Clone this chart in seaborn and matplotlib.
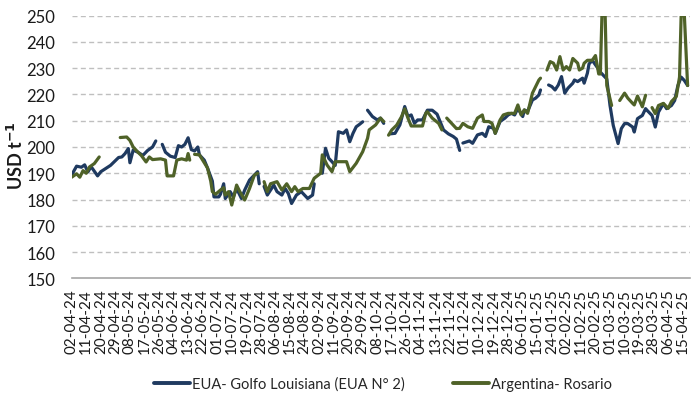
import numpy as np
import pandas as pd
import matplotlib
matplotlib.use("Agg")
import matplotlib.pyplot as plt
import seaborn as sns

# --- data (NaN = gap in the series) ------------------------------------------
US_DATES = [
    "2024-04-02", "2024-04-05", "2024-04-08", "2024-04-10", "2024-04-12", "2024-04-14",
    "2024-04-18", "2024-04-20", "2024-04-26", "2024-05-01", "2024-05-03", "2024-05-05",
    "2024-05-07", "2024-05-08", "2024-05-10", "2024-05-13", "2024-05-16", "2024-05-19",
    "2024-05-22", "2024-05-24", "2024-05-26", "2024-05-28", "2024-05-30", "2024-06-02",
    "2024-06-05", "2024-06-07", "2024-06-09", "2024-06-11", "2024-06-13", "2024-06-15",
    "2024-06-17", "2024-06-19", "2024-06-20", "2024-06-23", "2024-06-25", "2024-06-28",
    "2024-06-29", "2024-07-02", "2024-07-03", "2024-07-05", "2024-07-06", "2024-07-09",
    "2024-07-11", "2024-07-13", "2024-07-16", "2024-07-18", "2024-07-21", "2024-07-26",
    "2024-07-27", "2024-07-28", "2024-07-30", "2024-08-01", "2024-08-05", "2024-08-07",
    "2024-08-10", "2024-08-12", "2024-08-14", "2024-08-16", "2024-08-19", "2024-08-22",
    "2024-08-26", "2024-08-29", "2024-08-30", "2024-09-01", "2024-09-04", "2024-09-06",
    "2024-09-08", "2024-09-10", "2024-09-12", "2024-09-14", "2024-09-17", "2024-09-19",
    "2024-09-21", "2024-09-23", "2024-09-25", "2024-09-27", "2024-09-29", "2024-10-01",
    "2024-10-02", "2024-10-05", "2024-10-08", "2024-10-10", "2024-10-12", "2024-10-14",
    "2024-10-16", "2024-10-19", "2024-10-22", "2024-10-25", "2024-10-27", "2024-10-29",
    "2024-10-31", "2024-11-02", "2024-11-05", "2024-11-08", "2024-11-11", "2024-11-14",
    "2024-11-18", "2024-11-21", "2024-11-24", "2024-11-26", "2024-11-28", "2024-11-29",
    "2024-11-30", "2024-12-04", "2024-12-06", "2024-12-09", "2024-12-12", "2024-12-14",
    "2024-12-16", "2024-12-19", "2024-12-20", "2024-12-23", "2024-12-26", "2024-12-28",
    "2024-12-30", "2025-01-01", "2025-01-03", "2025-01-06", "2025-01-07", "2025-01-09",
    "2025-01-12", "2025-01-14", "2025-01-16", "2025-01-17", "2025-01-20", "2025-01-22",
    "2025-01-24", "2025-01-26", "2025-01-28", "2025-01-30", "2025-02-01", "2025-02-03",
    "2025-02-06", "2025-02-07", "2025-02-09", "2025-02-12", "2025-02-13", "2025-02-15",
    "2025-02-16", "2025-02-18", "2025-02-21", "2025-02-23", "2025-02-25", "2025-02-27",
    "2025-03-01", "2025-03-03", "2025-03-06", "2025-03-08", "2025-03-10", "2025-03-12",
    "2025-03-15", "2025-03-16", "2025-03-18", "2025-03-21", "2025-03-23", "2025-03-24",
    "2025-03-27", "2025-03-29", "2025-03-31", "2025-04-03", "2025-04-05", "2025-04-08",
    "2025-04-10", "2025-04-12", "2025-04-14", "2025-04-16", "2025-04-18",
]
US_VALUES = [
    189.4, 192.7, 192.3, 193.2, 190.5, 192.5,
    189.0, 190.6, 193.0, 196.0, 196.2, 197.5,
    199.4, 194.0, 198.8, 198.0, 196.8, 198.7,
    200.0, 202.3, np.nan, 201.0, 198.0, 196.5,
    196.0, 200.5, 200.0, 201.0, 203.5, 199.0,
    198.5, 200.0, 197.0, 195.0, 192.0, 187.0,
    181.0, 181.0, 182.0, 186.0, 180.4, 183.0,
    181.0, 184.2, 180.4, 183.6, 187.4, 190.6,
    186.0, np.nan, 185.0, 181.7, 185.5, 183.0,
    181.7, 184.2, 182.3, 178.5, 181.7, 183.0,
    180.4, 181.7, 186.0, np.nan, 190.0, 199.5,
    195.7, 194.4, 193.0, 205.8, 205.2, 206.5,
    202.0, 205.2, 207.7, 208.6, 209.6, np.nan,
    214.0, 211.6, 210.3, 211.0, 209.0, np.nan,
    205.0, 205.2, 208.4, 215.4, 211.6, 212.2,
    209.0, 210.3, 210.3, 214.0, 214.0, 212.5,
    206.5, 205.0, 204.0, 203.0, 198.7, np.nan,
    201.5, 202.3, 201.4, 204.6, 205.2, 204.0,
    207.7, 207.1, 205.2, 209.7, 211.0, 212.2,
    212.8, 212.2, 214.7, 211.6, 214.1, 213.5,
    217.9, 218.6, 219.8, 221.7, np.nan, 223.6,
    223.0, 221.7, 223.6, 226.8, 220.5, 222.4,
    224.3, 225.5, 224.9, 226.2, 224.3, 228.1,
    231.6, 233.0, 230.4, 228.5, 227.2, 225.9,
    215.8, 208.2, 201.3, 207.0, 208.9, 208.9,
    207.6, 205.7, 210.8, 212.0, 214.6, 213.9,
    212.0, 207.6, 213.3, 216.5, 214.6, 215.8,
    217.7, 223.4, 226.6, 225.3, 223.4,
]

AR_DATES = [
    "2024-04-02", "2024-04-05", "2024-04-07", "2024-04-09", "2024-04-11", "2024-04-13",
    "2024-04-16", "2024-04-19", "2024-04-22", "2024-05-02", "2024-05-06", "2024-05-08",
    "2024-05-10", "2024-05-13", "2024-05-15", "2024-05-18", "2024-05-20", "2024-05-22",
    "2024-05-27", "2024-05-30", "2024-05-31", "2024-06-04", "2024-06-06", "2024-06-09",
    "2024-06-12", "2024-06-13", "2024-06-14", "2024-06-16", "2024-06-17", "2024-06-20",
    "2024-06-23", "2024-06-25", "2024-06-27", "2024-06-28", "2024-06-30", "2024-07-03",
    "2024-07-05", "2024-07-06", "2024-07-08", "2024-07-10", "2024-07-13", "2024-07-15",
    "2024-07-18", "2024-07-21", "2024-07-24", "2024-07-26", "2024-07-28", "2024-07-30",
    "2024-08-01", "2024-08-03", "2024-08-07", "2024-08-10", "2024-08-13", "2024-08-16",
    "2024-08-18", "2024-08-20", "2024-08-23", "2024-08-27", "2024-08-30", "2024-09-03",
    "2024-09-04", "2024-09-07", "2024-09-10", "2024-09-12", "2024-09-17", "2024-09-19",
    "2024-09-21", "2024-09-25", "2024-09-29", "2024-10-02", "2024-10-03", "2024-10-07",
    "2024-10-10", "2024-10-12", "2024-10-14", "2024-10-15", "2024-10-17", "2024-10-20",
    "2024-10-23", "2024-10-25", "2024-10-27", "2024-10-29", "2024-11-02", "2024-11-05",
    "2024-11-07", "2024-11-08", "2024-11-11", "2024-11-15", "2024-11-17", "2024-11-19",
    "2024-11-20", "2024-11-23", "2024-11-26", "2024-11-28", "2024-11-30", "2024-12-03",
    "2024-12-06", "2024-12-09", "2024-12-12", "2024-12-13", "2024-12-16", "2024-12-18",
    "2024-12-20", "2024-12-23", "2024-12-25", "2024-12-28", "2025-01-01", "2025-01-03",
    "2025-01-05", "2025-01-07", "2025-01-09", "2025-01-12", "2025-01-14", "2025-01-16",
    "2025-01-17", "2025-01-19", "2025-01-21", "2025-01-23", "2025-01-25", "2025-01-27",
    "2025-01-29", "2025-01-31", "2025-02-02", "2025-02-04", "2025-02-06", "2025-02-09",
    "2025-02-10", "2025-02-12", "2025-02-13", "2025-02-15", "2025-02-18", "2025-02-20",
    "2025-02-22", "2025-02-23", "2025-02-24", "2025-02-26", "2025-02-27", "2025-03-02",
    "2025-03-04", "2025-03-07", "2025-03-10", "2025-03-12", "2025-03-15", "2025-03-16",
    "2025-03-18", "2025-03-21", "2025-03-23", "2025-03-25", "2025-03-27", "2025-03-29",
    "2025-03-31", "2025-04-03", "2025-04-06", "2025-04-08", "2025-04-11", "2025-04-13",
    "2025-04-14", "2025-04-16", "2025-04-18",
]
AR_VALUES = [
    188.5, 189.8, 188.5, 191.0, 190.0, 192.4,
    193.7, 196.2, np.nan, 203.6, 203.8, 202.5,
    200.0, 198.0, 196.8, 194.3, 196.2, 195.2,
    195.5, 195.0, 189.0, 189.0, 195.0, 195.5,
    195.0, 197.5, 195.0, np.nan, 197.2, 197.0,
    194.0, 192.0, 187.0, 183.0, 182.0, 183.6,
    184.5, 181.7, 183.0, 177.9, 185.5, 183.0,
    179.8, 184.2, 189.3, 190.0, np.nan, 186.8,
    183.0, 186.0, 186.8, 183.6, 186.0, 183.0,
    184.9, 183.0, 184.2, 184.2, 188.1, 190.0,
    197.0, 193.1, 190.6, 194.4, 194.4, 194.4,
    190.6, 193.8, 198.2, 203.3, 206.5, 208.4,
    211.0, 209.7, np.nan, 204.5, 206.5, 208.3,
    211.5, 214.5, 211.0, 208.0, 208.0, 208.0,
    212.8, 213.4, 211.0, 209.0, 206.5, np.nan,
    211.0, 209.0, 207.0, 207.1, 209.0, 207.7,
    207.1, 211.0, 212.2, 209.7, 209.7, 209.0,
    205.2, 210.3, 212.2, 212.8, 212.8, 216.0,
    212.2, 214.1, 212.8, 220.5, 223.0, 225.5,
    226.2, np.nan, 229.3, 232.5, 231.9, 229.3,
    234.4, 229.3, 230.6, 229.3, 233.7, 231.9,
    229.3, 230.0, 231.9, 233.0, 233.0, 234.8,
    227.8, 227.8, 250.0, 250.0, 223.4, 215.8,
    np.nan, 217.7, 220.5, 218.6, 216.6, 216.0,
    219.4, 215.3, 219.7, np.nan, 215.0, 212.7,
    215.8, 216.6, 214.7, 217.3, 219.2, 226.6,
    250.0, 250.0, 223.4,
]

SERIES_NAMES = ["EUA- Golfo Louisiana (EUA N° 2)", "Argentina- Rosario"]
COLORS = ["#1f3a60", "#4f6228"]
Y_TICKS = list(range(150, 251, 10))
FIRST_DAY = "2024-04-02"
LAST_TICK_DAY = "2025-04-15"


def to_frame(dates, values, name):
    df = pd.DataFrame({"date": pd.to_datetime(dates), "value": values})
    # every NaN starts a new segment so the gaps stay open
    df["segment"] = df["value"].isna().cumsum()
    df["series"] = name
    return df.dropna(subset=["value"])


data = pd.concat([
    to_frame(US_DATES, US_VALUES, SERIES_NAMES[0]),
    to_frame(AR_DATES, AR_VALUES, SERIES_NAMES[1]),
], ignore_index=True)
data["unit"] = data["series"] + "_" + data["segment"].astype(str)

sns.set_style("white")
plt.rcParams["font.family"] = ["Lato", "DejaVu Sans"]

fig = plt.figure(figsize=(6.91, 4.06), dpi=100)
ax = fig.add_axes([0.1038, 0.312, 0.8948, 0.647])

sns.lineplot(
    data=data, x="date", y="value", hue="series", units="unit",
    estimator=None, palette=COLORS, hue_order=SERIES_NAMES,
    linewidth=2.3, ax=ax, legend=False,
)

# axes styling
ax.set_ylim(150, 250)
ax.set_yticks(Y_TICKS)
ax.set_yticklabels([str(t) for t in Y_TICKS], fontsize=12, color="#1a1a1a")
ax.set_ylabel(r"USD t$^{\mathbf{-1}}$", fontsize=13, fontweight="bold",
              color="#1a1a1a")
ax.yaxis.set_label_coords(-0.074, 0.47)
ax.set_xlabel("")

start = pd.Timestamp(FIRST_DAY)
ticks = pd.date_range(FIRST_DAY, LAST_TICK_DAY, freq="9D")
ax.set_xlim(start, start + pd.Timedelta(days=382.5))
ax.set_xticks(ticks)
ax.set_xticklabels([t.strftime("%d-%m-%y") for t in ticks], rotation=90,
                   fontsize=11, color="#1a1a1a")

for y in Y_TICKS[1:]:
    ax.axhline(y, color="#bfbfbf", lw=1.0, ls=(0, (3.6, 2.4)), zorder=0)

for side in ["left", "right", "top"]:
    ax.spines[side].set_visible(False)
ax.spines["bottom"].set_color("#a6a6a6")
ax.spines["bottom"].set_linewidth(1.2)
ax.tick_params(axis="x", which="major", direction="out", length=5,
               width=1.0, color="#a6a6a6", pad=2)
ax.tick_params(axis="y", length=0, pad=12)

# legend below the plot
handles = [plt.Line2D([], [], color=c, lw=2.8) for c in COLORS]
fig.legend(handles, SERIES_NAMES, loc="center", ncol=2,
           bbox_to_anchor=(0.554, 0.052), frameon=False, fontsize=10.5,
           handlelength=2.5, handletextpad=0.1, columnspacing=3.3)

fig.savefig("out.png", dpi=100)
